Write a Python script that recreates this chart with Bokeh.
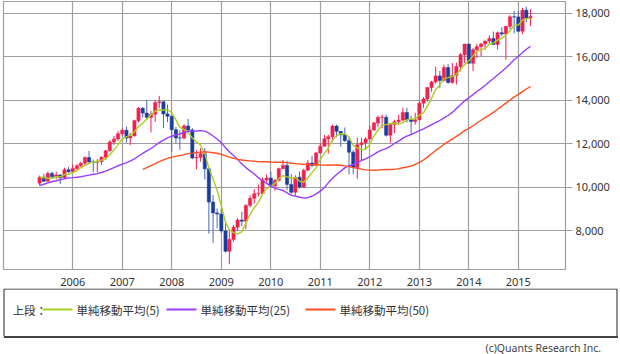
import pandas as pd
from bokeh.plotting import figure
from bokeh.models import Range1d, FixedTicker, NumeralTickFormatter, DatetimeTickFormatter, ColumnDataSource
from bokeh.layouts import column, row
from bokeh.core.properties import value
from bokeh.embed import file_html
from bokeh.resources import INLINE

# ---- data (monthly, May 2005 - Apr 2015) ----
start_month = "2005-05-01"
pre_closes = [8850, 8985, 9234, 9416, 9275, 9801, 9782, 10454,
              10488, 10584, 10358, 10226, 10188, 10435, 10140, 10174, 10080, 10027, 10428, 10783,
              10490, 10766, 10504, 10193]
opens = [10193, 10467, 10275, 10641, 10482, 10569, 10440, 10806,
         10718, 10865, 10993, 11109, 11367, 11168, 11150, 11186, 11381, 11679, 12081, 12222,
         12463, 12622, 12269, 12354, 13063, 13628, 13409, 13212, 13358, 13896, 13930, 13372,
         13265, 12650, 12266, 12263, 12820, 12638, 11350, 11378, 11544, 10851, 9325, 8829,
         8776, 8001, 7063, 7609, 8168, 8500, 8447, 9172, 9496, 9712, 9713, 10345,
         10428, 10067, 10325, 10857, 11009, 10137, 9774, 10466, 10015, 10788, 11118, 11006,
         11578, 11892, 12226, 12320, 12811, 12570, 12414, 12143, 11614, 10913, 11955, 12046,
         12218, 12633, 12952, 13212, 13214, 12393, 12880, 13009, 13091, 13437, 13096, 13026,
         13104, 13861, 14054, 14579, 14840, 15116, 14910, 15500, 14810, 15130, 15546, 16086,
         16577, 15699, 16322, 16458, 16581, 16717, 16827, 16563, 17098, 17043, 17391, 17828,
         17823, 17165, 18133, 17776]
highs = [10542, 10623, 10720, 10720, 10719, 10600, 10900, 10940,
         11047, 11061, 11160, 11420, 11670, 11275, 11300, 11420, 11720, 12170, 12360, 12580,
         12700, 12790, 12500, 13110, 13690, 13690, 14020, 13510, 14000, 14200, 13950, 13800,
         13280, 12770, 12620, 12900, 13140, 12730, 11710, 11810, 11800, 10900, 9650, 9030,
         9090, 8340, 7990, 8270, 8590, 8880, 9220, 9630, 9920, 10120, 10450, 10580,
         10730, 10400, 10910, 11260, 11220, 10600, 10560, 10720, 10860, 11250, 11450, 11630,
         12020, 12400, 12420, 12880, 12880, 12570, 12750, 12280, 11720, 12280, 12280, 12300,
         12840, 13000, 13290, 13340, 13340, 12900, 13100, 13330, 13660, 13660, 13290, 13430,
         13970, 14150, 14590, 14890, 15540, 15340, 15630, 15660, 15710, 15720, 16170, 16590,
         16590, 16400, 16590, 16630, 16740, 16980, 17150, 17160, 17350, 17400, 17900, 18100,
         18100, 18240, 18290, 18180]
lows = [10094, 10248, 10270, 10397, 10375, 10156, 10406, 10660,
        10661, 10745, 10930, 10980, 11070, 10700, 10680, 11030, 11270, 11640, 11950, 12130,
        12350, 12050, 11940, 12350, 12980, 13200, 13090, 12520, 13000, 13640, 12720, 13000,
        11630, 12010, 11730, 12200, 12480, 11290, 10830, 11180, 10360, 7880, 7450, 8120,
        7900, 7010, 6470, 7500, 8000, 8220, 8090, 9080, 9250, 9580, 9680, 10230,
        9980, 9840, 10270, 10850, 9870, 9690, 9610, 9940, 9990, 10740, 10930, 11000,
        11560, 11880, 11550, 12090, 12300, 11860, 12090, 10600, 10600, 10400, 11230, 11730,
        12200, 12600, 12750, 12710, 12330, 12040, 12490, 12880, 13030, 12970, 12470, 12880,
        13100, 13650, 13940, 14390, 14760, 14550, 14860, 14760, 14770, 14720, 15320, 15700,
        15690, 15340, 15940, 16010, 16330, 16600, 16550, 16330, 16950, 15860, 17260, 17070,
        17140, 17040, 17590, 17400]
closes = [10467, 10275, 10641, 10482, 10569, 10440, 10806, 10718,
          10865, 10993, 11109, 11367, 11168, 11150, 11186, 11381, 11679, 12081, 12222, 12463,
          12622, 12269, 12354, 13063, 13628, 13409, 13212, 13358, 13896, 13930, 13372, 13265,
          12650, 12266, 12263, 12820, 12638, 11350, 11378, 11544, 10851, 9325, 8829, 8776,
          8001, 7063, 7609, 8168, 8500, 8447, 9172, 9496, 9712, 9713, 10345, 10428,
          10067, 10325, 10857, 11009, 10137, 9774, 10466, 10015, 10788, 11118, 11006, 11578,
          11892, 12226, 12320, 12811, 12570, 12414, 12143, 11614, 10913, 11955, 12046, 12218,
          12633, 12952, 13212, 13214, 12393, 12880, 13009, 13091, 13437, 13096, 13026, 13104,
          13861, 14054, 14579, 14840, 15116, 14910, 15500, 14810, 15130, 15546, 16086, 16577,
          15699, 16322, 16458, 16581, 16717, 16827, 16563, 17098, 17043, 17391, 17828, 17823,
          17165, 18133, 17776, 17841]
ma_periods = [5, 25, 50]
ma_labels = ["単純移動平均(5)", "単純移動平均(25)", "単純移動平均(50)"]
ma_colors = ["#a8d020", "#9b3cff", "#ff4f22"]
year_ticks = [2006, 2007, 2008, 2009, 2010, 2011, 2012, 2013, 2014, 2015]
price_ticks = [8000, 10000, 12000, 14000, 16000, 18000]

# ---- build frames ----
dates = pd.date_range(start_month, periods=len(closes), freq="MS")
df = pd.DataFrame({"date": dates, "open": opens, "high": highs, "low": lows, "close": closes})
df["top"] = df[["open", "close"]].max(axis=1)
df["bottom"] = df[["open", "close"]].min(axis=1)
all_c = pd.Series(pre_closes + closes, dtype=float)
n_pre = len(pre_closes)

UP = "#f2204e"
DOWN = "#1b3d9b"
DOWN_WICK = "#4a68bb"
GRID = "#9e9e9e"

p = figure(width=620, height=288, x_axis_type="datetime", y_axis_location="right",
           output_backend="svg", toolbar_location=None,
           x_range=Range1d(pd.Timestamp("2004-08-08").to_pydatetime(), pd.Timestamp("2015-12-15").to_pydatetime()),
           y_range=Range1d(6230, 18531),
           min_border_left=3, min_border_right=55, min_border_top=1, min_border_bottom=16)
p.outline_line_color = GRID
p.outline_line_width = 1.2
p.background_fill_color = "white"
p.border_fill_color = "white"

tick_ms = [pd.Timestamp(f"{y}-01-01").value // 10**6 for y in year_ticks]
p.xaxis.ticker = FixedTicker(ticks=tick_ms)
p.xaxis.formatter = DatetimeTickFormatter(years="%Y", months="%Y", days="%Y", hours="%Y")
p.xgrid.ticker = FixedTicker(ticks=tick_ms)
p.yaxis.ticker = FixedTicker(ticks=price_ticks)
p.ygrid.ticker = FixedTicker(ticks=price_ticks)
p.yaxis.formatter = NumeralTickFormatter(format="0,0")
for g in (p.xgrid, p.ygrid):
    g.grid_line_color = GRID
    g.grid_line_width = 1.2
p.xaxis.axis_line_color = None
p.xaxis.major_tick_line_color = None
p.xaxis.minor_tick_line_color = None
p.xaxis.major_label_standoff = 2
p.yaxis.axis_line_color = None
p.yaxis.major_tick_line_color = GRID
p.yaxis.major_tick_line_width = 1.2
p.yaxis.major_tick_out = 7
p.yaxis.major_tick_in = 0
p.yaxis.minor_tick_line_color = None
p.yaxis.major_label_standoff = 3
for ax in (p.xaxis, p.yaxis):
    ax.major_label_text_font = "Noto Sans"
    ax.major_label_text_font_size = "11px"
    ax.major_label_text_color = "#333333"

up = ColumnDataSource(df[df["close"] >= df["open"]])
dn = ColumnDataSource(df[df["close"] < df["open"]])
body_w = 24 * 24 * 3600 * 1000
p.segment(x0="date", y0="low", x1="date", y1="high", source=up, line_color=UP, line_width=1)
p.segment(x0="date", y0="low", x1="date", y1="high", source=dn, line_color=DOWN_WICK, line_width=1)
p.vbar(x="date", top="top", bottom="bottom", width=body_w, source=up, fill_color=UP, line_color=UP, line_width=0.5)
p.vbar(x="date", top="top", bottom="bottom", width=body_w, source=dn, fill_color=DOWN, line_color=DOWN, line_width=0.5)

for n, col in zip(ma_periods, ma_colors):
    ma = all_c.rolling(n).mean().iloc[n_pre:].to_numpy()
    p.line(x=dates, y=ma, line_color=col, line_width=1.4)

# ---- legend panel ----
lg = figure(width=620, height=66, x_range=Range1d(0, 620), y_range=Range1d(66, 0),
            x_axis_location=None, y_axis_location=None, output_backend="svg",
            toolbar_location=None, min_border=0,
            min_border_left=0, min_border_right=0, min_border_top=0, min_border_bottom=0)
lg.grid.visible = False
lg.outline_line_color = None
lg.background_fill_color = "white"
lg.border_fill_color = "white"
lg.quad(left=[3.5], right=[616.5], top=[0.5], bottom=[48], fill_color=None, line_color="#222222", line_width=1)
lg.segment(x0=[3.5], y0=[48.5], x1=[617.5], y1=[48.5], line_color="#444444", line_width=2)
cjk = value("Noto Sans CJK JP")
lg.text(x=[12], y=[21], text=["上段："], text_font=cjk, text_font_size="11.5px",
        text_color="#333333", text_baseline="middle")
line_x0 = [42, 166, 305]
for i, (lab, col) in enumerate(zip(ma_labels, ma_colors)):
    x0 = line_x0[i]
    lg.segment(x0=[x0], y0=[21], x1=[x0 + 30], y1=[21], line_color=col, line_width=2)
    lg.text(x=[x0 + 34], y=[21], text=[lab], text_font=cjk, text_font_size="11.5px",
            text_color="#333333", text_baseline="middle")
lg.text(x=[485], y=[59], text=["(c)Quants Research Inc."], text_font=value("Noto Sans"),
        text_font_size="10.5px", text_color="#444444", text_baseline="middle")

layout = column(row(p), row(lg), spacing=0)
open("out.html", "w").write(file_html(layout, INLINE))
